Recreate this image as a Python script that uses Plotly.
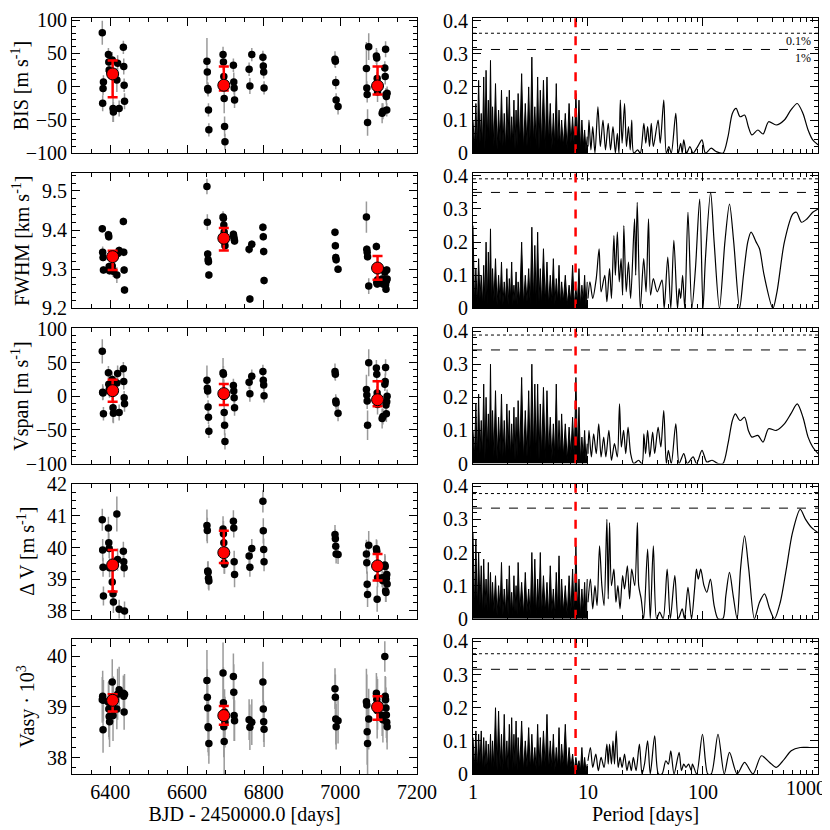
import plotly.graph_objects as go
from plotly.subplots import make_subplots

# ---- time series (BJD - 2450000) ----
bjd = [6379, 6380, 6381, 6382, 6395, 6396, 6397, 6398, 6405, 6407, 6408, 6417, 6419, 6423, 6434, 6435, 6436, 6437,
       6652, 6653, 6654, 6655, 6656, 6657, 6694, 6695, 6696, 6697, 6698, 6699, 6721, 6722, 6723, 6724,
       6762, 6764, 6769, 6798, 6799, 6800, 6801,
       6986, 6987, 6988, 6989, 6994, 7068, 7069, 7070, 7071, 7074, 7094, 7095, 7096, 7097, 7109, 7111,
       7116, 7117, 7118, 7119, 7120, 7121, 7122]

bis = [81, -25, -3, 7, 48, 37, 25, 23, 40, -33, -38, 10, 35, -33, 59, 30, 2, -22,
       38, 22, -3, -5, -35, -65, 48, 37, 15, -18, -60, -83, 32, 7, -2, -20, 26, 1, 48, 44, 31, 22, -2,
       41, 38, 6, -20, -30, 27, -2, -12, -54, 60, 46, 43, 12, -8, -40, -37, 28, 15, 56, -12, -15, -35, -10]
bis_err = [18, 12, 10, 10, 10, 12, 10, 10, 12, 20, 15, 18, 12, 12, 10, 12, 10, 12,
           35, 12, 10, 10, 10, 10, 12, 12, 20, 22, 15, 12, 10, 14, 10, 12, 10, 12, 10, 10, 10, 10, 10,
           12, 10, 10, 10, 12, 40, 10, 12, 20, 20, 12, 12, 10, 15, 15, 12, 10, 12, 12, 10, 12, 10, 10]

fwhm = [9.403, 9.343, 9.330, 9.298, 9.388, 9.383, 9.307, 9.296, 9.308, 9.296, 9.295, 9.285, 9.340, 9.348,
        9.422, 9.343, 9.298, 9.247,
        9.511, 9.420, 9.339, 9.324, 9.319, 9.285, 9.433, 9.430, 9.413, 9.395, 9.370, 9.360,
        9.389, 9.383, 9.377, 9.372, 9.351, 9.224, 9.364, 9.407, 9.383, 9.345, 9.271,
        9.394, 9.360, 9.330, 9.324, 9.300, 9.433, 9.351, 9.343, 9.332, 9.257, 9.358, 9.266, 9.262, 9.273,
        9.275, 9.262, 9.292, 9.296, 9.260, 9.249, 9.270, 9.298, 9.275]
fwhm_err = [0.010, 0.015, 0.010, 0.010, 0.010, 0.010, 0.010, 0.010, 0.012, 0.015, 0.010, 0.020, 0.010, 0.010,
            0.010, 0.010, 0.010, 0.010,
            0.020, 0.020, 0.010, 0.010, 0.010, 0.010, 0.015, 0.010, 0.010, 0.010, 0.010, 0.010,
            0.010, 0.010, 0.010, 0.010, 0.012, 0.010, 0.010, 0.010, 0.010, 0.010, 0.010,
            0.010, 0.010, 0.010, 0.010, 0.010, 0.040, 0.010, 0.010, 0.010, 0.020, 0.010, 0.010, 0.010, 0.010,
            0.010, 0.010, 0.010, 0.010, 0.010, 0.010, 0.010, 0.010, 0.010]

vspan = [67, 6, 5, -26, 35, 18, 10, 8, 25, -17, -25, 20, 34, -24, 41, 22, -2, -11,
         24, 12, 8, -16, -31, -52, 35, 33, 5, -24, -43, -67, 16, 8, -2, -17, 21, 4, 30, 37, 24, 17, 1,
         37, 33, -7, -10, -25, 10, 2, -7, -43, 50, 42, 33, 5, -12, -33, -30, 18, 22, 43, -13, -26, -8, 0]
vspan_err = [18, 12, 10, 10, 10, 12, 10, 10, 12, 22, 15, 18, 12, 12, 10, 12, 10, 12,
             22, 12, 10, 10, 10, 10, 22, 12, 20, 22, 15, 12, 10, 14, 10, 12, 10, 12, 10, 10, 10, 10, 10,
             12, 10, 10, 10, 12, 22, 10, 12, 22, 20, 12, 12, 10, 15, 15, 12, 10, 12, 12, 10, 12, 10, 10]

dv = [40.88, 39.92, 39.38, 38.47, 40.62, 40.15, 39.97, 39.36, 38.91, 38.54, 38.28, 41.06, 39.62, 38.05,
      39.88, 39.55, 39.36, 38.00,
      40.70, 40.54, 39.26, 39.22, 39.03, 38.94, 40.59, 40.44, 40.15, 39.52, 39.47, 39.90,
      40.83, 40.62, 39.55, 39.15, 39.73, 39.38, 39.97, 41.46, 40.53, 39.94, 39.55,
      40.41, 40.28, 40.04, 39.80, 39.78, 39.80, 39.52, 38.84, 38.52, 40.07, 39.96, 39.88, 38.37, 39.05,
      39.05, 38.95, 39.45, 39.40, 38.63, 38.58, 39.02, 39.15, 38.85]
dv_err = [0.35, 0.35, 0.30, 0.30, 0.35, 0.30, 0.30, 0.30, 0.35, 0.40, 0.35, 0.55, 0.35, 0.30,
          0.30, 0.30, 0.30, 0.30,
          0.50, 0.40, 0.30, 0.35, 0.35, 0.30, 0.40, 0.40, 0.35, 0.35, 0.30, 0.35,
          0.35, 0.30, 0.35, 0.40, 0.30, 0.30, 0.30, 0.35, 0.40, 0.35, 0.30,
          0.30, 0.30, 0.30, 0.30, 0.30, 0.45, 0.35, 0.40, 0.40, 0.45, 0.30, 0.35, 0.40, 0.30,
          0.30, 0.30, 0.35, 0.35, 0.35, 0.30, 0.35, 0.30, 0.35]

vasy = [39.14, 39.21, 38.55, 39.13, 39.09, 38.96, 38.81, 38.71, 39.49, 38.83, 39.15, 38.96, 39.25, 39.34,
        39.27, 39.21, 38.90, 39.25,
        39.52, 39.19, 38.98, 38.61, 38.59, 38.28, 39.67, 39.08, 38.61, 38.32, 38.90, 38.70,
        39.60, 39.29, 38.83, 38.73, 38.75, 38.60, 38.70, 39.49, 38.96, 38.71, 38.56,
        39.36, 39.19, 38.76, 38.61, 38.73, 39.10, 39.04, 38.51, 38.28, 38.76, 39.27, 39.15, 38.93, 39.05,
        38.83, 38.75, 39.99, 39.21, 39.14, 38.98, 38.84, 38.70, 38.61]
vasy_err = [0.45, 0.50, 0.45, 0.40, 0.40, 0.55, 0.45, 0.50, 0.45, 0.50, 0.45, 0.40, 0.50, 0.45,
            0.35, 0.40, 0.35, 0.40,
            0.60, 0.55, 0.45, 0.50, 0.55, 0.40, 0.60, 0.70, 0.60, 0.65, 0.45, 0.50,
            0.45, 0.55, 0.50, 0.40, 0.40, 0.45, 0.45, 0.40, 0.45, 0.40, 0.35,
            0.40, 0.45, 0.50, 0.45, 0.45, 0.65, 0.60, 0.65, 0.70, 0.60, 0.40, 0.45, 0.55, 0.50,
            0.40, 0.45, 0.30, 0.40, 0.45, 0.40, 0.45, 0.40, 0.45]

# binned season means (red)
bin_t = [6406, 6696, 7097]
bis_bin, bis_hi, bis_lo = [19, 2, 1], [20, 28, 29], [35, 8, 13]
fwhm_bin, fwhm_hi, fwhm_lo = [9.332, 9.379, 9.303], [0.015, 0.026, 0.031], [0.034, 0.031, 0.030]
vspan_bin, vspan_hi, vspan_lo = [8.4, 4.0, -5.0], [16.4, 14.3, 27.3], [16.3, 16.9, 9.9]
dv_bin, dv_hi, dv_lo = [39.45, 39.84, 39.42], [0.47, 0.69, 0.38], [0.84, 0.33, 0.46]
vasy_bin, vasy_hi, vasy_lo = [39.13, 38.83, 39.00], [0.12, 0.19, 0.21], [0.22, 0.18, 0.25]

# ---- periodograms ----
per_short = [1.00, 1.03, 1.06, 1.09, 1.12, 1.15, 1.18, 1.21, 1.24, 1.27, 1.30, 1.33, 1.36, 1.39, 1.42, 1.45, 1.48,
             1.52, 1.57, 1.62, 1.67, 1.72, 1.77, 1.82, 1.87, 1.92, 1.97, 2.02, 2.07, 2.12, 2.17, 2.22, 2.27, 2.32,
             2.37, 2.42, 2.47,
             2.55, 2.65, 2.75, 2.85, 2.95, 3.05, 3.15, 3.25, 3.35, 3.45, 3.55, 3.65, 3.75, 3.85, 3.95,
             4.10, 4.25, 4.40, 4.55, 4.70, 4.85, 5.00, 5.15, 5.30, 5.45, 5.60, 5.75, 5.90,
             6.10, 6.35, 6.60, 6.85, 7.10, 7.35, 7.60, 7.85, 8.10, 8.35, 8.60, 8.85, 9.10, 9.35, 9.60, 9.85]

bis_pow_short = [0.10, 0.02, 0.15, 0.01, 0.22, 0.03, 0.12, 0.02, 0.23, 0.01, 0.25, 0.04, 0.16, 0.02, 0.28, 0.03, 0.14,
                 0.02, 0.21, 0.01, 0.13, 0.03, 0.19, 0.02, 0.12, 0.01, 0.17, 0.04, 0.19, 0.02, 0.11, 0.03, 0.16, 0.01,
                 0.13, 0.02, 0.18,
                 0.03, 0.24, 0.01, 0.15, 0.02, 0.20, 0.01, 0.29, 0.03, 0.14, 0.02, 0.23, 0.01, 0.19, 0.02,
                 0.22, 0.01, 0.23, 0.03, 0.15, 0.01, 0.12, 0.02, 0.21, 0.01, 0.13, 0.02, 0.10,
                 0.02, 0.12, 0.01, 0.15, 0.03, 0.11, 0.02, 0.18, 0.04, 0.16, 0.01, 0.10, 0.02, 0.07, 0.01, 0.05]
fwhm_pow_short = [0.25, 0.02, 0.12, 0.01, 0.15, 0.03, 0.10, 0.01, 0.13, 0.02, 0.20, 0.01, 0.17, 0.03, 0.24, 0.01, 0.12,
                  0.02, 0.15, 0.01, 0.10, 0.02, 0.14, 0.01, 0.08, 0.02, 0.12, 0.01, 0.09, 0.03, 0.14, 0.01, 0.07, 0.02,
                  0.11, 0.01, 0.08,
                  0.02, 0.20, 0.01, 0.10, 0.02, 0.12, 0.01, 0.245, 0.02, 0.19, 0.01, 0.23, 0.02, 0.12, 0.01,
                  0.18, 0.02, 0.14, 0.01, 0.10, 0.02, 0.15, 0.01, 0.09, 0.02, 0.13, 0.01, 0.08,
                  0.02, 0.10, 0.01, 0.07, 0.02, 0.13, 0.01, 0.06, 0.02, 0.12, 0.01, 0.07, 0.02, 0.10, 0.01, 0.08]
vspan_pow_short = [0.10, 0.02, 0.18, 0.01, 0.21, 0.03, 0.13, 0.02, 0.24, 0.01, 0.20, 0.04, 0.15, 0.02, 0.30, 0.03, 0.16,
                   0.02, 0.22, 0.01, 0.14, 0.03, 0.21, 0.02, 0.13, 0.01, 0.18, 0.04, 0.16, 0.02, 0.12, 0.03, 0.17, 0.01,
                   0.14, 0.02, 0.19,
                   0.03, 0.26, 0.01, 0.16, 0.02, 0.22, 0.01, 0.30, 0.03, 0.24, 0.02, 0.24, 0.01, 0.18, 0.02,
                   0.23, 0.01, 0.22, 0.03, 0.14, 0.01, 0.12, 0.02, 0.24, 0.01, 0.13, 0.02, 0.15,
                   0.02, 0.12, 0.01, 0.11, 0.03, 0.14, 0.02, 0.26, 0.04, 0.17, 0.01, 0.08, 0.02, 0.10, 0.01, 0.06]
dv_pow_short = [0.26, 0.03, 0.24, 0.02, 0.20, 0.04, 0.16, 0.01, 0.18, 0.03, 0.12, 0.02, 0.17, 0.01, 0.14, 0.03, 0.11,
                0.02, 0.13, 0.01, 0.10, 0.03, 0.17, 0.01, 0.09, 0.02, 0.12, 0.01, 0.16, 0.02, 0.08, 0.01, 0.13, 0.02,
                0.10, 0.01, 0.17,
                0.02, 0.11, 0.01, 0.14, 0.02, 0.09, 0.01, 0.20, 0.02, 0.18, 0.01, 0.12, 0.03, 0.20, 0.01,
                0.13, 0.02, 0.11, 0.01, 0.16, 0.02, 0.09, 0.01, 0.14, 0.02, 0.19, 0.01, 0.12,
                0.02, 0.10, 0.01, 0.13, 0.02, 0.15, 0.01, 0.22, 0.03, 0.12, 0.01, 0.09, 0.02, 0.11, 0.01, 0.12]
vasy_pow_short = [0.11, 0.02, 0.13, 0.01, 0.12, 0.03, 0.13, 0.01, 0.11, 0.02, 0.10, 0.01, 0.09, 0.02, 0.12, 0.01, 0.10,
                  0.02, 0.20, 0.01, 0.19, 0.02, 0.12, 0.01, 0.18, 0.02, 0.10, 0.01, 0.15, 0.02, 0.17, 0.01, 0.12, 0.02,
                  0.16, 0.01, 0.11,
                  0.02, 0.16, 0.01, 0.10, 0.02, 0.14, 0.01, 0.12, 0.02, 0.08, 0.01, 0.15, 0.02, 0.11, 0.01,
                  0.13, 0.02, 0.18, 0.01, 0.10, 0.02, 0.12, 0.01, 0.08, 0.02, 0.14, 0.01, 0.09,
                  0.02, 0.15, 0.01, 0.08, 0.02, 0.06, 0.01, 0.05, 0.02, 0.04, 0.01, 0.08, 0.01, 0.05, 0.01, 0.03]

bis_per_long = [10.0, 10.2, 10.6, 11.0, 11.5, 12.2, 12.8, 13.5, 14.2, 15.0, 15.7, 16.5, 17.3, 18.0, 18.6, 19.1, 19.8,
                20.8, 21.6, 22.5, 23.3, 24.0, 25.0, 27.0, 28.5, 30.6, 31.8, 33.0, 34.3, 35.5, 37.0, 40.7, 42.5, 45.6,
                48.0, 50.5, 53.0, 58.0, 61.0, 64.0, 66.0, 68.0, 72.0, 77.0, 82.0, 90.0, 98.0, 105.0, 118.0, 130.0,
                149.0, 165.0, 180.0, 194.0, 210.0, 230.0, 248.0, 266.0, 300.0, 333.0, 372.0, 433.0, 510.0, 580.0,
                660.0, 740.0, 820.0, 900.0, 1000.0]
bis_pow_long = [0.02, 0.10, 0.01, 0.08, 0.0, 0.14, 0.02, 0.10, 0.01, 0.09, 0.01, 0.08, 0.0, 0.06, 0.0, 0.16, 0.03,
                0.15, 0.02, 0.08, 0.01, 0.10, 0.0, 0.01, 0.0, 0.09, 0.03, 0.08, 0.02, 0.09, 0.02, 0.10, 0.03, 0.16,
                0.0, 0.02, 0.0, 0.12, 0.0, 0.03, 0.0, 0.04, 0.0, 0.02, 0.0, 0.02, 0.04, 0.0, 0.015, 0.005,
                0.0, 0.05, 0.12, 0.135, 0.11, 0.115, 0.08, 0.055, 0.07, 0.058, 0.095, 0.085, 0.10, 0.13,
                0.15, 0.12, 0.07, 0.04, 0.025]

fwhm_per_long = [10.0, 10.4, 11.0, 11.8, 12.5, 13.0, 14.0, 14.6, 15.4, 16.0, 16.8, 17.3, 18.0, 18.7, 19.4, 20.0, 20.5,
                 21.5, 22.5, 23.5, 25.4, 26.0, 26.8, 28.5, 30.5, 32.0, 33.6, 35.0, 37.0, 40.0, 44.0, 46.0, 49.4,
                 52.5, 55.8, 60.0, 62.0, 64.0, 66.5, 69.5, 74.0, 80.0, 86.0, 93.6, 100.0, 105.0, 116.5, 125.0,
                 139.0, 155.0, 170.0, 185.0, 208.0, 225.0, 245.0, 262.0, 290.0, 310.0, 340.0, 405.0, 440.0, 510.0,
                 605.0, 650.0, 718.0, 800.0, 900.0, 1000.0]
fwhm_pow_long = [0.03, 0.08, 0.03, 0.09, 0.18, 0.05, 0.10, 0.02, 0.12, 0.03, 0.22, 0.10, 0.23, 0.08, 0.15, 0.04, 0.25,
                 0.05, 0.14, 0.03, 0.27, 0.10, 0.32, 0.0, 0.15, 0.05, 0.27, 0.04, 0.09, 0.05, 0.085, 0.0, 0.155,
                 0.0, 0.205, 0.0, 0.06, 0.03, 0.10, 0.0, 0.29, 0.0, 0.12, 0.33, 0.0, 0.15, 0.35, 0.20,
                 0.0, 0.20, 0.315, 0.20, 0.0, 0.10, 0.20, 0.23, 0.20, 0.18, 0.10, 0.0, 0.05, 0.20,
                 0.285, 0.29, 0.26, 0.27, 0.29, 0.30]

vspan_per_long = [10.0, 10.2, 10.7, 11.2, 11.8, 12.4, 13.0, 13.7, 14.3, 15.2, 16.0, 17.0, 18.0, 18.8, 19.5, 20.4, 21.3,
                  22.3, 23.5, 25.0, 27.5, 29.5, 30.6, 31.7, 33.0, 34.5, 36.5, 38.0, 40.7, 43.0, 45.6, 48.0, 50.0,
                  53.0, 58.0, 62.0, 68.0, 73.0, 82.0, 88.0, 98.0, 108.0, 120.0, 135.0, 149.0, 165.0, 180.0, 191.0,
                  210.0, 230.0, 248.0, 266.0, 300.0, 333.0, 372.0, 433.0, 510.0, 580.0, 660.0, 740.0, 820.0, 900.0,
                  1000.0]
vspan_pow_long = [0.03, 0.10, 0.02, 0.09, 0.03, 0.12, 0.02, 0.08, 0.02, 0.10, 0.01, 0.06, 0.02, 0.18, 0.05, 0.10, 0.03,
                  0.11, 0.03, 0.0, 0.01, 0.0, 0.09, 0.03, 0.10, 0.02, 0.095, 0.03, 0.11, 0.05, 0.16, 0.0, 0.04,
                  0.0, 0.12, 0.0, 0.03, 0.0, 0.02, 0.0, 0.04, 0.005, 0.01, 0.0, 0.0, 0.06, 0.13, 0.15,
                  0.13, 0.14, 0.10, 0.08, 0.085, 0.065, 0.105, 0.10, 0.12, 0.15, 0.18, 0.14, 0.08, 0.05,
                  0.03]

dv_per_long = [10.0, 10.5, 11.0, 11.5, 12.0, 12.6, 13.2, 13.8, 14.6, 15.0, 15.4, 16.0, 16.8, 17.5, 18.2, 19.0, 20.0,
               20.8, 22.0, 23.0, 24.0, 25.5, 26.9, 27.6, 29.0, 30.5, 33.0, 34.8, 37.0, 39.5, 42.0, 45.0, 48.8,
               52.0, 56.9, 61.0, 66.0, 69.0, 74.0, 79.5, 84.5, 87.7, 91.0, 95.5, 102.0, 108.0, 116.0, 125.0,
               135.0, 149.0, 158.0, 170.0, 183.0, 198.0, 212.0, 230.0, 250.0, 280.0, 310.0, 343.0, 380.0, 418.0,
               470.0, 530.0, 600.0, 700.0, 780.0, 880.0, 1000.0]
dv_pow_long = [0.05, 0.12, 0.03, 0.10, 0.04, 0.22, 0.10, 0.04, 0.30, 0.06, 0.29, 0.10, 0.15, 0.05, 0.10, 0.03, 0.13,
               0.09, 0.16, 0.06, 0.15, 0.10, 0.29, 0.10, 0.06, 0.0, 0.21, 0.0, 0.22, 0.0, 0.02, 0.0, 0.15,
               0.0, 0.13, 0.0, 0.03, 0.0, 0.095, 0.0, 0.09, 0.15, 0.12, 0.15, 0.10, 0.08, 0.12, 0.04,
               0.0, 0.0, 0.07, 0.14, 0.07, 0.0, 0.15, 0.25, 0.15, 0.0, 0.05, 0.075, 0.03, 0.0,
               0.05, 0.15, 0.26, 0.33, 0.30, 0.275, 0.26]

vasy_per_long = [10.0, 10.5, 11.0, 11.7, 12.3, 13.0, 13.8, 14.6, 15.0, 15.4, 16.0, 16.5, 17.0, 17.6, 18.3, 19.0, 19.8,
                 20.8, 21.8, 22.8, 23.8, 24.8, 26.2, 28.0, 29.5, 31.0, 33.0, 34.8, 38.0, 41.0, 44.0, 47.5, 50.0,
                 52.5, 56.0, 62.0, 65.0, 68.0, 71.0, 75.0, 79.0, 81.0, 88.0, 99.0, 110.0, 118.0, 135.0, 153.0,
                 170.0, 198.0, 230.0, 272.0, 322.0, 380.0, 433.0, 510.0, 585.0, 700.0, 850.0, 1000.0]
vasy_pow_long = [0.04, 0.08, 0.02, 0.06, 0.01, 0.05, 0.02, 0.09, 0.03, 0.09, 0.03, 0.10, 0.03, 0.13, 0.02, 0.05, 0.02,
                 0.06, 0.01, 0.04, 0.01, 0.05, 0.01, 0.09, 0.0, 0.03, 0.10, 0.0, 0.115, 0.0, 0.0, 0.04, 0.03,
                 0.07, 0.0, 0.065, 0.01, 0.03, 0.02, 0.03, 0.01, 0.03, 0.0, 0.12, 0.0, 0.0, 0.12, 0.0,
                 0.065, 0.0, 0.035, 0.0, 0.055, 0.035, 0.02, 0.045, 0.07, 0.08, 0.08, 0.08]

fap_01 = [0.362, 0.391, 0.388, 0.378, 0.363]
fap_1 = [0.313, 0.350, 0.343, 0.334, 0.316]
p_rot = 7.8

serif = 'Liberation Serif, Times New Roman, Times, serif'
fs = 20

left_rows = [
    ('BIS [m s<sup>-1</sup>]', bis, bis_err, bis_bin, bis_hi, bis_lo, [-100, 103], 50, 10),
    ('FWHM [km s<sup>-1</sup>]', fwhm, fwhm_err, fwhm_bin, fwhm_hi, fwhm_lo, [9.2, 9.545], 0.1, 0.02),
    ('Vspan [m s<sup>-1</sup>]', vspan, vspan_err, vspan_bin, vspan_hi, vspan_lo, [-100, 101], 50, 10),
    ('\u0394 V [m s<sup>-1</sup>]', dv, dv_err, dv_bin, dv_hi, dv_lo, [37.75, 42.02], 1, 0.25),
    ('Vasy \u00b7 10<sup>3</sup>', vasy, vasy_err, vasy_bin, vasy_hi, vasy_lo, [37.68, 40.34], 1, 0.2),
]
right_rows = [
    (bis_pow_short, bis_per_long, bis_pow_long),
    (fwhm_pow_short, fwhm_per_long, fwhm_pow_long),
    (vspan_pow_short, vspan_per_long, vspan_pow_long),
    (dv_pow_short, dv_per_long, dv_pow_long),
    (vasy_pow_short, vasy_per_long, vasy_pow_long),
]

fig = make_subplots(rows=5, cols=2, horizontal_spacing=0.075, vertical_spacing=0.0265)

axis_style = dict(showline=True, linecolor='black', linewidth=1, mirror='allticks', ticks='inside',
                  ticklen=8, tickcolor='black', showgrid=False, zeroline=False, automargin=False,
                  tickfont=dict(family=serif, size=fs, color='black'))

for i, (title, y, yerr, yb, yhi, ylo, yrange, dt, mdt) in enumerate(left_rows):
    r = i + 1
    fig.add_trace(go.Scatter(x=bjd, y=y, mode='markers',
                             marker=dict(color='black', size=7.5),
                             error_y=dict(type='data', array=yerr, color='#9a9a9a', thickness=1.5, width=0)),
                  row=r, col=1)
    fig.add_trace(go.Scatter(x=bin_t, y=yb, mode='markers',
                             marker=dict(color='red', size=12, line=dict(color='black', width=1)),
                             error_y=dict(type='data', symmetric=False, array=yhi, arrayminus=ylo,
                                          color='red', thickness=2.5, width=5)),
                  row=r, col=1)
    fig.update_yaxes(range=yrange, dtick=dt, title_text=title, title_standoff=6,
                     title_font=dict(family=serif, size=fs, color='black'),
                     minor=dict(dtick=mdt, ticks='inside', ticklen=4, tickcolor='black'),
                     row=r, col=1, **axis_style)
    fig.update_xaxes(range=[6300, 7200], dtick=200, showticklabels=(r == 5),
                     minor=dict(dtick=50, ticks='inside', ticklen=4, tickcolor='black'),
                     row=r, col=1, **axis_style)

minor_log = [2, 3, 4, 5, 6, 7, 8, 9, 20, 30, 40, 50, 60, 70, 80, 90, 200, 300, 400, 500, 600, 700, 800, 900]

for i, (pw_s, per_l, pw_l) in enumerate(right_rows):
    r = i + 1
    fig.add_trace(go.Scatter(x=per_short, y=pw_s, mode='lines', fill='tozeroy', fillcolor='black',
                             line=dict(color='black', width=1)),
                  row=r, col=2)
    fig.add_trace(go.Scatter(x=per_l, y=pw_l, mode='lines',
                             line=dict(color='black', width=1.2, shape='spline', smoothing=0.8)),
                  row=r, col=2)
    fig.add_trace(go.Scatter(x=[1, 1000], y=[fap_01[i], fap_01[i]], mode='lines',
                             line=dict(color='black', width=1, dash='dot')), row=r, col=2)
    fig.add_trace(go.Scatter(x=[1, 1000], y=[fap_1[i], fap_1[i]], mode='lines',
                             line=dict(color='black', width=1, dash='dash')), row=r, col=2)
    fig.add_trace(go.Scatter(x=[p_rot, p_rot], y=[0, 0.41], mode='lines',
                             line=dict(color='red', width=2.5, dash='dash')), row=r, col=2)
    fig.update_yaxes(range=[0, 0.408], dtick=0.1,
                     minor=dict(dtick=0.02, ticks='inside', ticklen=4, tickcolor='black'),
                     row=r, col=2, **axis_style)
    # the last label (1000) sits on the page edge, so it is drawn as an annotation below
    fig.update_xaxes(type='log', range=[0, 3], tickvals=[1, 10, 100, 1000],
                     ticktext=['1', '10', '100', ''], showticklabels=(r == 5),
                     minor=dict(tickvals=minor_log, ticks='inside', ticklen=4, tickcolor='black'),
                     row=r, col=2, **axis_style)

fig.update_xaxes(title_text='BJD - 2450000.0 [days]', title_font=dict(family=serif, size=fs, color='black'),
                 title_standoff=4, row=5, col=1)
fig.update_xaxes(title_text='Period [days]', title_font=dict(family=serif, size=fs, color='black'),
                 title_standoff=4, row=5, col=2)

fig.add_annotation(text='1000', xref='x10 domain', yref='y10 domain', x=1.03, y=0,
                   xanchor='right', yanchor='top', yshift=-1, showarrow=False,
                   font=dict(family=serif, size=fs, color='black'))
fig.add_annotation(text='0.1%', xref='x2 domain', yref='y2', x=0.985, y=0.338, xanchor='right',
                   showarrow=False, font=dict(family=serif, size=12, color='black'))
fig.add_annotation(text='1%', xref='x2 domain', yref='y2', x=0.985, y=0.288, xanchor='right',
                   showarrow=False, font=dict(family=serif, size=12, color='black'))

# the page adds an 8 px body margin, so the figure is 822 px and margins are shifted by 8 px
fig.update_layout(width=822, height=822, showlegend=False,
                  plot_bgcolor='white', paper_bgcolor='white',
                  margin=dict(l=64, r=12, t=10, b=56),
                  font=dict(family=serif, color='black'))

fig.write_html("out.html")
